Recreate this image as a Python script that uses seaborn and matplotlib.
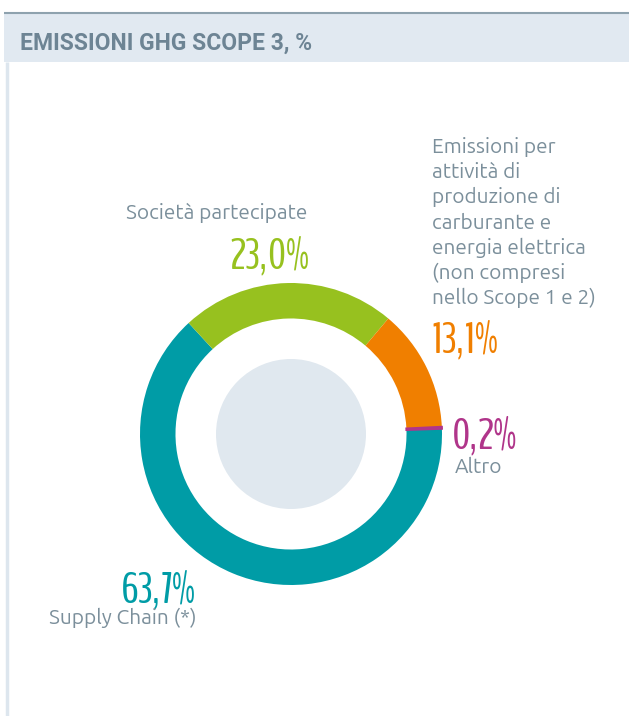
import matplotlib.pyplot as plt
import seaborn as sns
from matplotlib.patches import Circle, Rectangle

# data
categories = [
    "Supply Chain (*)",
    "Società partecipate",
    "Emissioni per\nattività di\nproduzione di\ncarburante e\nenergia elettrica\n(non compresi\nnello Scope 1 e 2)",
    "Altro",
]
shares = [63.7, 23.0, 13.1, 0.2]
share_labels = ["63,7%", "23,0%", "13,1%", "0,2%"]
colors = ["#009ca6", "#97c11f", "#f07f00", "#b0358a"]
title = "EMISSIONI GHG SCOPE 3, %"

sns.set_theme(style="white")
plt.rcParams["font.family"] = ["Ubuntu", "Open Sans", "DejaVu Sans"]

W, H = 629, 716
cx, cy, R = 291, 434, 151  # donut centre / radius in pixels


def px(x, y):
    # pixel position (from top left) -> data coords of the pie axes
    return (x - cx) / R, (cy - y) / R


fig = plt.figure(figsize=(W / 100, H / 100), dpi=100)
ax = fig.add_axes([0, 0, 1, 1])

wedges, _ = ax.pie(shares, colors=colors, startangle=2, counterclock=False,
                   radius=1, wedgeprops=dict(width=0.235, linewidth=0))
# the tiny "Altro" slice is drawn with an outline so it stays visible
wedges[3].set_edgecolor(colors[3])
wedges[3].set_linewidth(1.5)
ax.add_patch(Circle((0, 0), 75 / R, color="#e0e8ef", lw=0))

ax.set_xlim(-cx / R, (W - cx) / R)
ax.set_ylim(-(H - cy) / R, cy / R)
ax.set_aspect("equal")
ax.axis("off")

# header band
x0, y0 = px(4, 62)
x1, y1 = px(629, 13)
ax.add_patch(Rectangle((x0, y0), x1 - x0, y1 - y0, color="#e1e9f1", lw=0, zorder=0))
ax.plot([x0, x1], [y1, y1], color="#8ea2ae", lw=1.5, solid_capstyle="butt")
lx, ly0 = px(6.5, 62)
_, ly1 = px(6.5, 716)
ax.plot([lx, lx], [ly0, ly1], color="#dde6ee", lw=2.5, solid_capstyle="butt")
ax.text(*px(20, 50), title, fontsize=16.5, fontweight="bold", color="#6d8494",
        family=["Roboto", "DejaVu Sans"], va="baseline", ha="left")

label_color = "#7b8f9b"
lab_size = 15
pct_font = dict(family=["BenchNine", "Pathway Gothic One", "DejaVu Sans"], fontsize=32)

# Supply Chain
ax.text(*px(196, 602), share_labels[0], color=colors[0], ha="right", va="baseline", **pct_font)
ax.text(*px(49, 624), categories[0], color=label_color, fontsize=lab_size, ha="left", va="baseline")

# Società partecipate
ax.text(*px(309, 268), share_labels[1], color=colors[1], ha="right", va="baseline", **pct_font)
ax.text(*px(307, 219), categories[1], color=label_color, fontsize=lab_size, ha="right", va="baseline")

# Emissioni per attività ...
ax.text(*px(432, 304), categories[2], color=label_color, fontsize=lab_size, ha="left",
        va="baseline", linespacing=1.3)
ax.text(*px(431, 352), share_labels[2], color=colors[2], ha="left", va="baseline", **pct_font)

# Altro
ax.text(*px(452, 448), share_labels[3], color=colors[3], ha="left", va="baseline", **pct_font)
ax.text(*px(455, 473), categories[3], color=label_color, fontsize=lab_size, ha="left", va="baseline")

fig.savefig("out.png", dpi=100)
